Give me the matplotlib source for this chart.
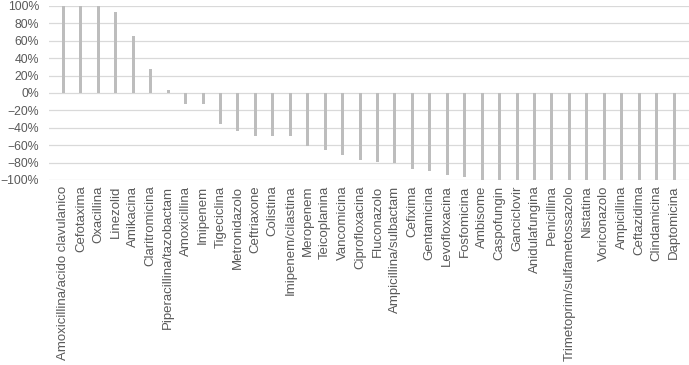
import matplotlib.pyplot as plt
import numpy as np
from matplotlib.ticker import PercentFormatter

plt.rcParams['font.family'] = ['Liberation Sans', 'DejaVu Sans']

# categories and values (percent change)
drugs = ['Amoxicillina/acido clavulanico', 'Cefotaxima', 'Oxacillina', 'Linezolid',
         'Amikacina', 'Claritromicina', 'Piperacillina/tazobactam', 'Amoxicillina',
         'Imipenem', 'Tigeciclina', 'Metronidazolo', 'Ceftriaxone', 'Colistina',
         'Imipenem/cilastina', 'Meropenem', 'Teicoplanina', 'Vancomicina',
         'Ciprofloxacina', 'Fluconazolo', 'Ampicillina/sulbactam', 'Cefixima',
         'Gentamicina', 'Levofloxacina', 'Fosfomicina', 'Ambisome', 'Caspofungin',
         'Ganciclovir', 'Anidulafungina', 'Penicillina',
         'Trimetoprim/sulfametossazolo', 'Nistatina', 'Voriconazolo', 'Ampicillina',
         'Ceftazidima', 'Clindamicina', 'Daptomicina']
change = [100, 100, 100, 93, 66, 27, 3, -13, -13, -36, -44, -49, -49, -50,
          -61, -65, -71, -77, -79, -80, -87, -90, -94, -97, -100, -100, -100,
          -100, -100, -100, -100, -100, -100, -100, -100, -100]

txt = '#595959'
fig = plt.figure(figsize=(6.89, 3.65), dpi=100)
ax = fig.add_axes([0.0711, 0.507, 0.929, 0.4766])

x = np.arange(len(drugs))
ax.bar(x, change, width=0.17, color='#BDBDBD', zorder=3)

ax.set_ylim(-100, 100)
ax.set_xlim(-0.83, len(drugs) - 0.14)
ax.set_yticks(np.arange(-100, 101, 20))
ax.yaxis.set_major_formatter(PercentFormatter(decimals=0))
ax.grid(axis='y', color='#D9D9D9', linewidth=0.9, zorder=0)
for s in ax.spines.values():
    s.set_visible(False)

ax.set_xticks(x)
ax.set_xticklabels(drugs, rotation=90, fontsize=9.5, color=txt)
ax.tick_params(axis='x', length=0, pad=4)
ax.tick_params(axis='y', length=0, pad=7, labelsize=8.8, labelcolor=txt)

fig.savefig('out.png', dpi=100)
